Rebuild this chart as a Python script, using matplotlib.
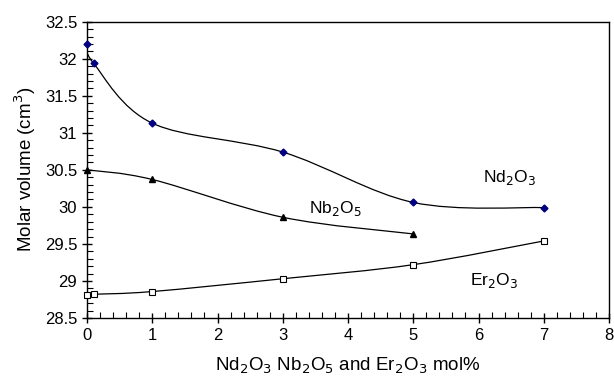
import numpy as np
import matplotlib
matplotlib.use("Agg")
import matplotlib.pyplot as plt
from matplotlib.path import Path
from matplotlib.patches import PathPatch
from matplotlib.ticker import MultipleLocator, FuncFormatter

plt.rcParams['font.family'] = ['Liberation Sans', 'DejaVu Sans']

nd_x = [0, 0.1, 1, 3, 5, 7]
nd_y = [32.2, 31.94, 31.13, 30.74, 30.06, 29.99]
nb_x = [0, 1, 3, 5]
nb_y = [30.50, 30.37, 29.86, 29.635]
er_x = [0, 0.1, 1, 3, 5, 7]
er_y = [28.81, 28.82, 28.857, 29.03, 29.22, 29.54]


def smooth_path(xs, ys):
    # excel-like smoothed line: catmull-rom as cubic bezier
    p = np.column_stack([xs, ys]).astype(float)
    n = len(p)
    verts = [p[0]]
    codes = [Path.MOVETO]
    for i in range(n - 1):
        p0 = p[i - 1] if i > 0 else p[i]
        p3 = p[i + 2] if i + 2 < n else p[i + 1]
        c1 = p[i] + (p[i + 1] - p0) / 6
        c2 = p[i + 1] - (p3 - p[i]) / 6
        verts += [c1, c2, p[i + 1]]
        codes += [Path.CURVE4] * 3
    return Path(verts, codes)


def fmt(v, pos):
    return "{:g}".format(v)


fig = plt.figure(figsize=(6.14, 3.76), dpi=100)
ax = fig.add_axes([87 / 614, 1 - 318 / 376, (609 - 87) / 614, (318 - 21.7) / 376])

for xs, ys in [(nd_x, nd_y), (nb_x, nb_y), (er_x, er_y)]:
    ax.add_patch(PathPatch(smooth_path(xs, ys), facecolor='none', edgecolor='black', lw=0.9))

ax.plot(nd_x, nd_y, 'D', color='navy', markersize=3.5, linestyle='none', clip_on=False, zorder=5)
ax.plot(nb_x, nb_y, '^', color='black', markersize=4.5, linestyle='none', clip_on=False, zorder=5)
ax.plot(er_x, er_y, 's', markerfacecolor='white', markeredgecolor='black',
        markeredgewidth=0.8, markersize=5, linestyle='none', clip_on=False, zorder=5)

ax.text(6.48, 30.40, 'Nd$_2$O$_3$', ha='center', va='center', fontsize=12.5)
ax.text(3.80, 29.98, 'Nb$_2$O$_5$', ha='center', va='center', fontsize=12.5)
ax.text(6.24, 29.01, 'Er$_2$O$_3$', ha='center', va='center', fontsize=12.5)

ax.set_xlim(0, 8)
ax.set_ylim(28.5, 32.5)
ax.xaxis.set_major_locator(MultipleLocator(1))
ax.xaxis.set_minor_locator(MultipleLocator(0.2))
ax.yaxis.set_major_locator(MultipleLocator(0.5))
ax.yaxis.set_minor_locator(MultipleLocator(0.1))
ax.yaxis.set_major_formatter(FuncFormatter(fmt))
ax.tick_params(which='major', direction='inout', length=7, width=1, labelsize=12)
ax.tick_params(which='minor', direction='in', length=4, width=0.8)
for s in ax.spines.values():
    s.set_linewidth(1)

ax.set_xlabel('Nd$_2$O$_3$ Nb$_2$O$_5$ and Er$_2$O$_3$ mol%', fontsize=13.5, labelpad=9)
ax.set_ylabel('Molar volume (cm$^3$)', fontsize=13.5, labelpad=5)

fig.savefig('out.png', dpi=100)
